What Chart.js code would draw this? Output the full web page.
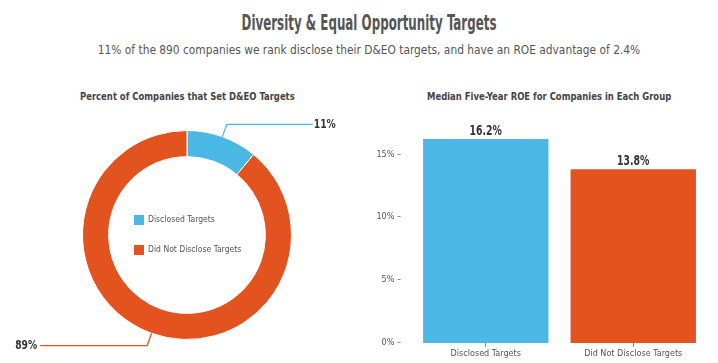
<!DOCTYPE html>
<html>
<head>
<meta charset="utf-8">
<script src="https://cdn.jsdelivr.net/npm/chart.js@4.4.1/dist/chart.umd.min.js"></script>
<style>
  body { margin: 0; background: #fff; font-family: "DejaVu Sans Condensed", sans-serif; }
  #page { position: relative; width: 718px; height: 363px; overflow: hidden; }
  .t { position: absolute; white-space: nowrap; color: #555; }
  #title { left: 0; width: 738px; top: 10px; text-align: center; font-size: 22px; font-weight: bold; transform: scaleX(0.6); }
  #subtitle { left: 0; width: 738px; top: 42px; text-align: center; font-size: 13px; transform: scaleX(0.91); }
  #donutTitle { left: 80px; top: 91px; font-size: 10px; font-weight: bold; color: #444; transform: scaleX(0.94); transform-origin: left; }
  #barTitle { left: 427px; top: 91px; font-size: 10px; font-weight: bold; color: #444; transform: scaleX(0.94); transform-origin: left; }
  #donutBox { position: absolute; left: 0; top: 110px; width: 374px; height: 250px; }
  #barBox { position: absolute; left: 360px; top: 110px; width: 358px; height: 253px; }
</style>
</head>
<body>
<div id="page">
  <div class="t" id="title">Diversity &amp; Equal Opportunity Targets</div>
  <div class="t" id="subtitle">11% of the 890 companies we rank disclose their D&amp;EO targets, and have an ROE advantage of 2.4%</div>
  <div class="t" id="donutTitle">Percent of Companies that Set D&amp;EO Targets</div>
  <div class="t" id="barTitle">Median Five-Year ROE for Companies in Each Group</div>
  <div id="donutBox"><canvas id="donut"></canvas></div>
  <div id="barBox"><canvas id="bars"></canvas></div>
</div>
<script>
// datos del gráfico
var categories = ['Disclosed Targets', 'Did Not Disclose Targets'];
var sharePct = [11, 89];
var roePct = [16.2, 13.8];
var roeTicks = [0, 5, 10, 15];
var colors = ['#4bb7e5', '#e2531f'];
var FONT = '"DejaVu Sans Condensed", sans-serif';

// texto angosto (la fuente original es condensada)
function narrowText(ctx, text, x, y, sx) {
    ctx.save();
    ctx.translate(x, y);
    ctx.scale(sx, 1);
    ctx.fillText(text, 0, 0);
    ctx.restore();
}

// líneas guía y etiquetas del donut
var donutLabels = {
    id: 'donutLabels',
    afterDatasetsDraw: function(chart) {
        var ctx = chart.ctx;
        var meta = chart.getDatasetMeta(0);
        meta.data.forEach(function(arc, i) {
            var mid = (arc.startAngle + arc.endAngle) / 2;
            var r = arc.outerRadius;
            var x0 = arc.x + Math.cos(mid) * r;
            var y0 = arc.y + Math.sin(mid) * r;
            var x1 = arc.x + Math.cos(mid) * (r + 13);
            var y1 = arc.y + Math.sin(mid) * (r + 13);
            var right = Math.cos(mid) >= 0;
            var x2 = right ? x1 + 86 : x1 - 107;
            ctx.save();
            ctx.strokeStyle = colors[i];
            ctx.lineWidth = 1.2;
            ctx.beginPath();
            ctx.moveTo(x0, y0);
            ctx.lineTo(x1, y1);
            ctx.lineTo(x2, y1);
            ctx.stroke();
            ctx.fillStyle = '#333';
            ctx.font = 'bold 12px ' + FONT;
            ctx.textBaseline = 'middle';
            ctx.textAlign = right ? 'left' : 'right';
            narrowText(ctx, sharePct[i] + '%', right ? x2 + 1 : x2 - 3, y1, 0.85);
            ctx.restore();
        });

        // leyenda en el centro
        var cx = meta.data[0].x, cy = meta.data[0].y;
        ctx.save();
        ctx.font = '9px ' + FONT;
        ctx.textBaseline = 'middle';
        ctx.textAlign = 'left';
        categories.forEach(function(c, i) {
            var y = cy - 15 + i * 30;
            ctx.fillStyle = colors[i];
            ctx.fillRect(cx - 53, y - 5, 10, 10);
            ctx.fillStyle = '#555';
            narrowText(ctx, c, cx - 39, y, 0.95);
        });
        ctx.restore();
    }
};

new Chart(document.getElementById('donut'), {
    type: 'doughnut',
    data: {
        labels: categories,
        datasets: [{
            data: sharePct,
            backgroundColor: colors,
            borderColor: '#fff',
            borderWidth: 1
        }]
    },
    options: {
        responsive: true,
        maintainAspectRatio: false,
        animation: false,
        cutout: '75%',
        layout: { padding: 20 },
        plugins: {
            legend: { display: false },
            tooltip: { enabled: false }
        }
    },
    plugins: [donutLabels]
});

// etiquetas de valor sobre las barras
var barValues = {
    id: 'barValues',
    afterDatasetsDraw: function(chart) {
        var ctx = chart.ctx;
        ctx.save();
        ctx.fillStyle = '#333';
        ctx.font = 'bold 14px ' + FONT;
        ctx.textAlign = 'center';
        ctx.textBaseline = 'alphabetic';
        chart.getDatasetMeta(0).data.forEach(function(bar, i) {
            narrowText(ctx, roePct[i].toFixed(1) + '%', bar.x, bar.y - 4, 0.74);
        });
        ctx.restore();
    }
};

new Chart(document.getElementById('bars'), {
    type: 'bar',
    data: {
        labels: categories,
        datasets: [{
            data: roePct,
            backgroundColor: colors,
            categoryPercentage: 1,
            barPercentage: 0.85
        }]
    },
    options: {
        responsive: true,
        maintainAspectRatio: false,
        animation: false,
        layout: { padding: { top: 19, right: 11 } },
        plugins: {
            legend: { display: false },
            tooltip: { enabled: false }
        },
        scales: {
            x: {
                border: { display: false },
                grid: { display: true, drawOnChartArea: false, offset: false, tickLength: 4, color: '#888' },
                ticks: { color: '#555', font: { family: FONT, size: 9 }, padding: 1 },
                afterFit: function(s) { s.height = 20; }
            },
            y: {
                min: 0,
                max: 17,
                border: { display: false },
                grid: { display: false },
                afterBuildTicks: function(s) { s.ticks = roeTicks.map(function(v) { return { value: v }; }); },
                ticks: {
                    color: '#555',
                    font: { family: FONT, size: 9 },
                    padding: 3,
                    callback: function(v) { return v + '% \u2013'; }
                },
                afterFit: function(s) { s.width = 52; }
            }
        }
    },
    plugins: [barValues]
});
</script>
</body>
</html>
